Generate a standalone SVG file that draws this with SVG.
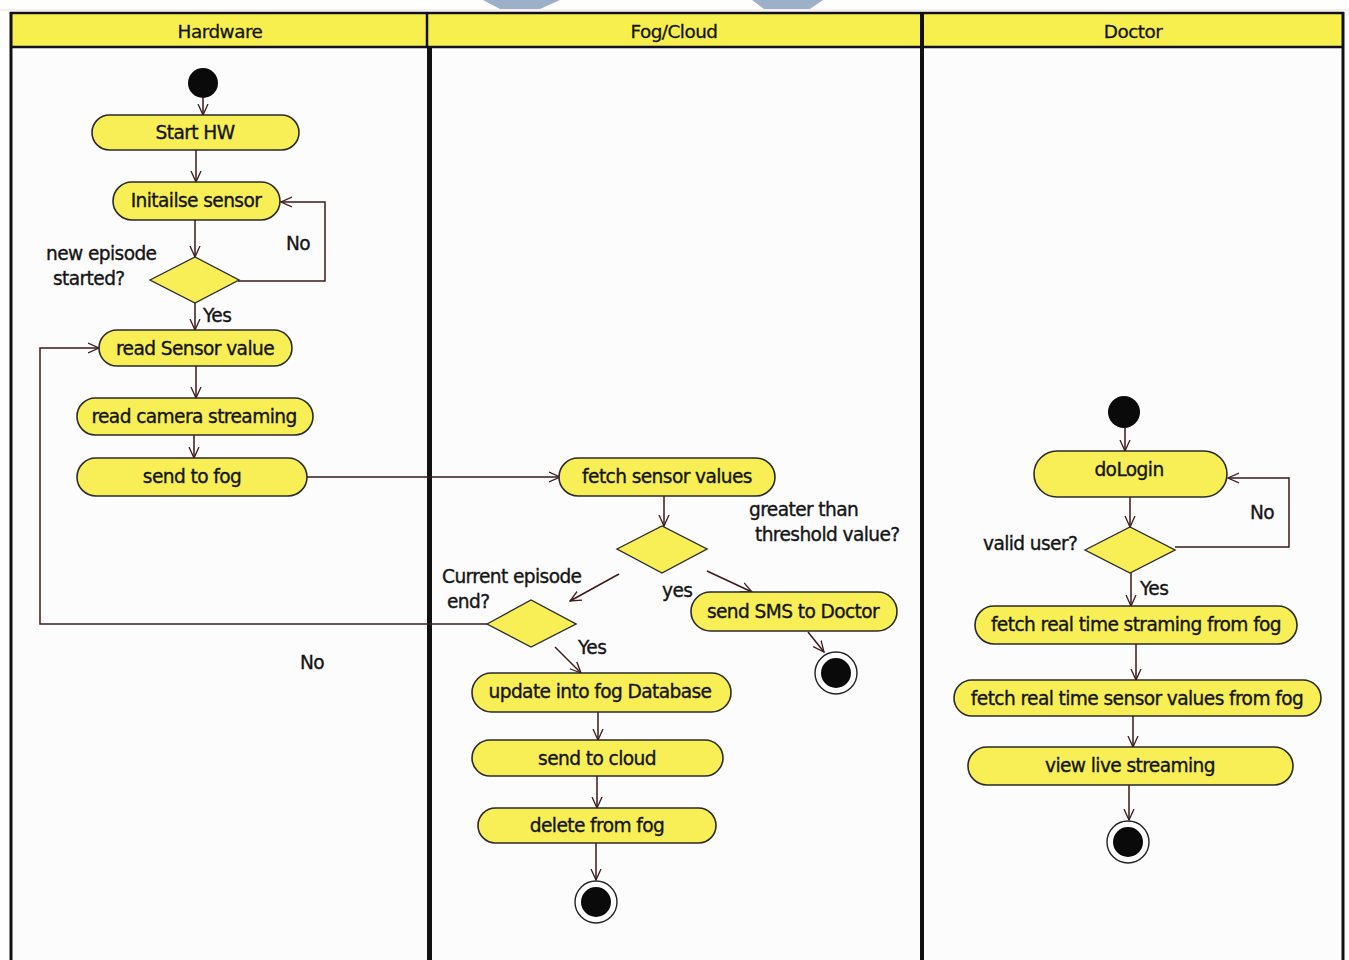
<svg xmlns="http://www.w3.org/2000/svg" width="1349" height="960" viewBox="0 0 1349 960">
<defs>
<marker id="arr" viewBox="0 0 12 12" refX="11" refY="6" markerWidth="12" markerHeight="12" markerUnits="userSpaceOnUse" orient="auto">
<path d="M0,1 L11,6 L0,11" fill="none" stroke="#3a1a1a" stroke-width="1.3"/>
</marker>
</defs>
<style>
.act{fill:#f7ef55;stroke:#2a2a2a;stroke-width:1.6}
.dec{fill:#f7ef55;stroke:#2a2a2a;stroke-width:1.4}
.t{font-family:"DejaVu Sans","Liberation Sans",sans-serif;font-size:18.6px;fill:#151515;stroke:#151515;stroke-width:0.35;text-anchor:middle;dominant-baseline:central;letter-spacing:-0.6px}
.lbl{font-family:"DejaVu Sans","Liberation Sans",sans-serif;font-size:18.6px;fill:#151515;stroke:#151515;stroke-width:0.35;letter-spacing:-0.6px}
.c{fill:none;stroke:#3a1a1a;stroke-width:1.5;marker-end:url(#arr)}
.hd{font-family:"DejaVu Sans","Liberation Sans",sans-serif;font-size:18.4px;fill:#151515;stroke:#151515;stroke-width:0.3;text-anchor:middle;dominant-baseline:central;letter-spacing:-0.5px}
</style>
<rect x="0" y="0" width="1349" height="960" fill="#ffffff"/>
<!-- watermark -->
<polygon points="483,0 560,0 540,9 500,9" fill="#9db0c9"/>
<polygon points="752,0 823,0 810,9 764,9" fill="#9db0c9"/>
<line x1="0" y1="10" x2="1349" y2="10" stroke="#f4dede" stroke-width="1"/>
<!-- swimlanes -->
<g id="lanes">
<rect x="11" y="13" width="1332" height="34" fill="#f7ef4e"/>
<rect x="13" y="48" width="1328" height="912" fill="#fdfcfc"/>
<line x1="10" y1="13" x2="1344" y2="13" stroke="#111" stroke-width="2.5"/>
<line x1="10" y1="47" x2="1344" y2="47" stroke="#111" stroke-width="2.5"/>
<line x1="11" y1="12" x2="11" y2="960" stroke="#111" stroke-width="3"/>
<line x1="1343" y1="12" x2="1343" y2="960" stroke="#111" stroke-width="3"/>
<line x1="427" y1="12" x2="427" y2="47" stroke="#111" stroke-width="2.5"/>
<line x1="429.5" y1="47" x2="429.5" y2="960" stroke="#111" stroke-width="5"/>
<line x1="922" y1="12" x2="922" y2="960" stroke="#111" stroke-width="4"/>
<text class="hd" x="220" y="31">Hardware</text>
<text class="hd" x="674" y="31">Fog/Cloud</text>
<text class="hd" x="1133" y="31">Doctor</text>
</g>
<!-- connectors -->
<g id="connectors">
<path class="c" d="M203,98 V115"/>
<path class="c" d="M196,150 V182"/>
<path class="c" d="M195,220 V257"/>
<path class="c" d="M238,281 H325 V202 H281"/>
<path class="c" d="M195,303 V330"/>
<path class="c" d="M196,366 V398"/>
<path class="c" d="M194,435 V458"/>
<path class="c" d="M307,477 H560"/>
<path class="c" d="M487,624 H40 V348 H99"/>
<path class="c" d="M664,496 V526"/>
<path class="c" d="M619,574 L570,601"/>
<path class="c" d="M707,571 L752,592"/>
<path class="c" d="M808,632 L824,652"/>
<path class="c" d="M555,647 L581,673"/>
<path class="c" d="M598,712 V740"/>
<path class="c" d="M597,776 V808"/>
<path class="c" d="M596,843 V880"/>
<path class="c" d="M1125,428 V451"/>
<path class="c" d="M1130,497 V527"/>
<path class="c" d="M1175,547 H1289 V478 H1228"/>
<path class="c" d="M1131,573 V606"/>
<path class="c" d="M1136,644 V680"/>
<path class="c" d="M1133,716 V747"/>
<path class="c" d="M1129,785 V820"/>
</g>
<!-- labels -->
<g id="labels">
<text class="lbl" x="46" y="260">new episode</text>
<text class="lbl" x="53" y="285">started?</text>
<text class="lbl" x="286" y="250">No</text>
<text class="lbl" x="203" y="322">Yes</text>
<text class="lbl" x="300" y="669">No</text>
<text class="lbl" x="749" y="516">greater than</text>
<text class="lbl" x="755" y="541">threshold value?</text>
<text class="lbl" x="662" y="597">yes</text>
<text class="lbl" x="442" y="583">Current episode</text>
<text class="lbl" x="447" y="608">end?</text>
<text class="lbl" x="578" y="654">Yes</text>
<text class="lbl" x="983" y="550">valid user?</text>
<text class="lbl" x="1250" y="519">No</text>
<text class="lbl" x="1140" y="595">Yes</text>
</g>
<!-- Hardware lane nodes -->
<g id="hw-start"><circle cx="203" cy="83" r="15" fill="#0a0a0a"/></g>
<g id="start-hw"><rect class="act" x="92" y="115" width="207" height="35" rx="17.5"/><text class="t" x="195" y="132">Start HW</text></g>
<g id="init-sensor"><rect class="act" x="113" y="182" width="167" height="38" rx="19"/><text class="t" x="196" y="200">Initailse sensor</text></g>
<g id="new-episode"><polygon class="dec" points="150,280 195,257 239,280 195,303"/></g>
<g id="read-sensor"><rect class="act" x="99" y="330" width="193" height="36" rx="18"/><text class="t" x="195" y="348">read Sensor value</text></g>
<g id="read-camera"><rect class="act" x="77" y="398" width="236" height="37" rx="18.5"/><text class="t" x="194" y="416">read camera streaming</text></g>
<g id="send-fog"><rect class="act" x="77" y="458" width="230" height="38" rx="19"/><text class="t" x="192" y="476">send to fog</text></g>
<!-- Fog lane nodes -->
<g id="fetch-sensor"><rect class="act" x="559" y="458" width="216" height="38" rx="19"/><text class="t" x="667" y="476">fetch sensor values</text></g>
<g id="threshold"><polygon class="dec" points="617,549 662,526 707,549 662,573"/></g>
<g id="send-sms"><rect class="act" x="691" y="592" width="206" height="39" rx="19.5"/><text class="t" x="793" y="611">send SMS to Doctor</text></g>
<g id="sms-end"><circle cx="836" cy="673" r="21" fill="#fff" stroke="#222" stroke-width="1.4"/><circle cx="836" cy="673" r="15" fill="#0a0a0a"/></g>
<g id="episode-end"><polygon class="dec" points="487,624 531,600 576,624 531,647"/></g>
<g id="update-db"><rect class="act" x="472" y="673" width="259" height="39" rx="19.5"/><text class="t" x="600" y="691">update into fog Database</text></g>
<g id="send-cloud"><rect class="act" x="472" y="740" width="251" height="36" rx="18"/><text class="t" x="597" y="758">send to cloud</text></g>
<g id="delete-fog"><rect class="act" x="478" y="808" width="238" height="35" rx="17.5"/><text class="t" x="597" y="825">delete from fog</text></g>
<g id="fog-end"><circle cx="596" cy="902" r="21" fill="#fff" stroke="#222" stroke-width="1.4"/><circle cx="596" cy="902" r="15" fill="#0a0a0a"/></g>
<!-- Doctor lane nodes -->
<g id="doc-start"><circle cx="1124" cy="412" r="16" fill="#0a0a0a"/></g>
<g id="dologin"><rect class="act" x="1034" y="451" width="193" height="46" rx="23"/><text class="t" x="1129" y="469">doLogin</text></g>
<g id="valid-user"><polygon class="dec" points="1085,550 1130,527 1175,550 1130,573"/></g>
<g id="fetch-stream"><rect class="act" x="975" y="606" width="322" height="38" rx="19"/><text class="t" x="1136" y="624">fetch real time straming from fog</text></g>
<g id="fetch-values"><rect class="act" x="954" y="680" width="367" height="36" rx="18"/><text class="t" x="1137" y="698">fetch real time sensor values from fog</text></g>
<g id="view-live"><rect class="act" x="968" y="747" width="325" height="38" rx="19"/><text class="t" x="1130" y="765">view live streaming</text></g>
<g id="doc-end"><circle cx="1128" cy="842" r="21" fill="#fff" stroke="#222" stroke-width="1.4"/><circle cx="1128" cy="842" r="15" fill="#0a0a0a"/></g>
</svg>
